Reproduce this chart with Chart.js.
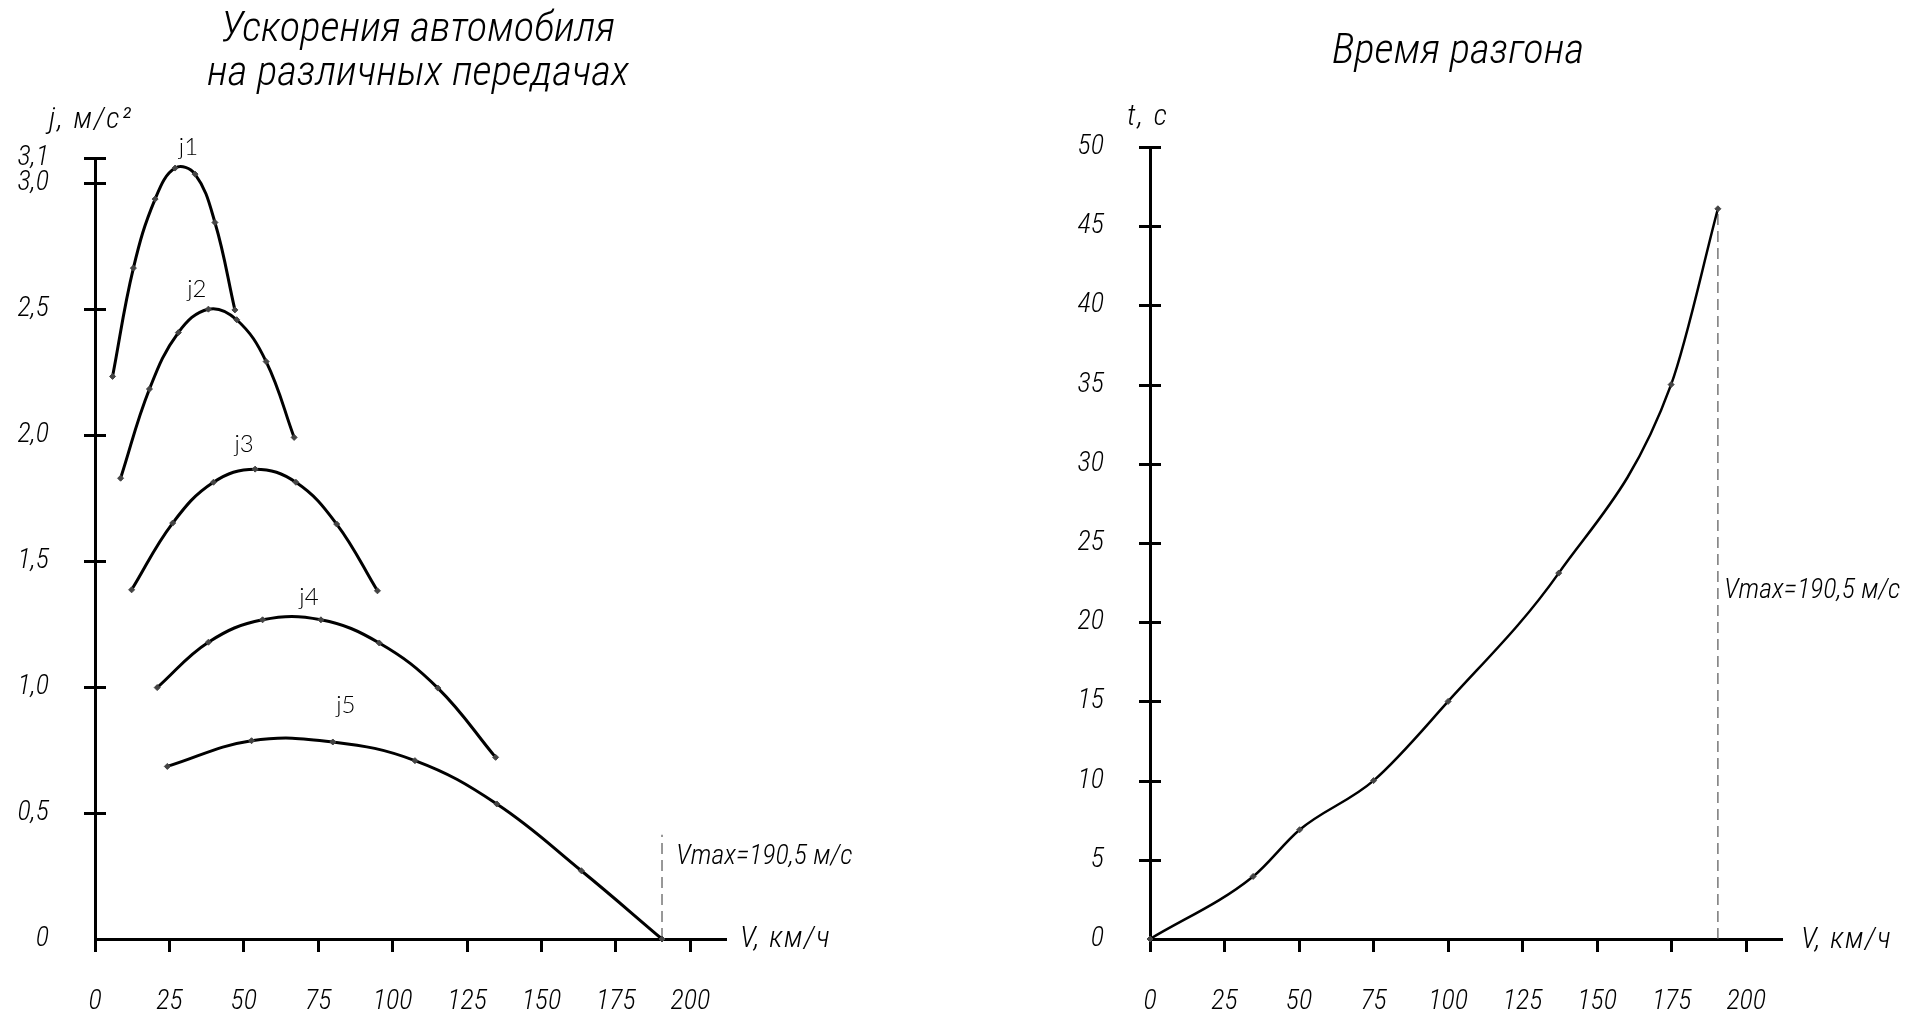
<!DOCTYPE html>
<html>
<head>
<meta charset="utf-8">
<script src="https://cdn.jsdelivr.net/npm/chart.js@4.4.1/dist/chart.umd.min.js"></script>
<style>
  body { margin: 0; background: #fff; }
  #sheet { position: relative; width: 1910px; height: 1016px; overflow: hidden; }
  #sheet canvas { position: absolute; top: 0; }
</style>
</head>
<body>
<div id="sheet">
  <canvas id="accel" width="955" height="1016" style="left:0"></canvas>
  <canvas id="time" width="955" height="1016" style="left:955px"></canvas>
</div>
<script>
// ticks
const speedTicks = [0, 25, 50, 75, 100, 125, 150, 175, 200];
const accelTicks = [0, 0.5, 1.0, 1.5, 2.0, 2.5, 3.0, 3.1];
const timeTicks = [0, 5, 10, 15, 20, 25, 30, 35, 40, 45, 50];

// accelerations per gear, V km/h -> j m/s2
const gearNames = ['j1', 'j2', 'j3', 'j4', 'j5'];
const speedJ1 = [5.9, 12.9, 20.2, 26.9, 33.6, 40.3, 47.0];
const accelJ1 = [2.233, 2.663, 2.937, 3.06, 3.036, 2.844, 2.497];
const speedJ2 = [8.6, 18.3, 28.0, 38.1, 47.6, 57.5, 66.9];
const accelJ2 = [1.829, 2.183, 2.407, 2.5, 2.458, 2.292, 1.991];
const speedJ3 = [12.3, 26.1, 39.8, 53.8, 67.5, 81.2, 94.9];
const accelJ3 = [1.386, 1.651, 1.813, 1.865, 1.813, 1.647, 1.382];
const speedJ4 = [20.9, 38.1, 56.3, 75.9, 95.5, 115.2, 134.6];
const accelJ4 = [0.998, 1.178, 1.267, 1.267, 1.175, 0.996, 0.721];
const speedJ5 = [24.3, 52.6, 79.9, 107.5, 135.0, 163.4, 190.5];
const accelJ5 = [0.685, 0.787, 0.782, 0.708, 0.536, 0.271, 0];

// acceleration time, V km/h -> t s
const speedT = [0, 34.6, 50.2, 75, 100, 137.1, 174.8, 190.5];
const timeT = [0, 3.95, 6.9, 10, 15, 23.1, 35, 46.1];

const vmax = 190.5;
const vmaxAccelSpan = [0, 0.414];
const vmaxTimeSpan = [0, 46.1];

const gost = "'Roboto Condensed', 'Open Sans', sans-serif";
const plain = "Lato, 'Open Sans', sans-serif";
const commaNum = (v) => v === 0 ? '0' : v.toFixed(1).replace('.', ',');

// crossing tick marks on the value axis + free text (titles, axis names, notes)
const sheetNotes = {
  id: 'sheetNotes',
  afterDraw(chart, args, opts) {
    const {ctx, scales: {x, y}} = chart;
    ctx.save();
    ctx.strokeStyle = '#000';
    ctx.lineWidth = 3;
    y.ticks.forEach((t) => {
      if (t.value === 0) return;
      const py = Math.round(y.getPixelForValue(t.value)) + 0.5;
      ctx.beginPath();
      ctx.moveTo(x.left - 11, py);
      ctx.lineTo(x.left + 11, py);
      ctx.stroke();
    });
    ctx.fillStyle = '#000';
    opts.texts.forEach((t) => {
      ctx.font = t.font;
      ctx.letterSpacing = t.spacing || '0px';
      ctx.textAlign = t.align || 'left';
      ctx.textBaseline = t.baseline || 'middle';
      const px = t.data ? x.getPixelForValue(t.data[0]) : t.at[0];
      const py = t.data ? y.getPixelForValue(t.data[1]) : t.at[1];
      ctx.fillText(t.text, px + (t.dx || 0), py);
    });
    ctx.restore();
  }
};

function curve(xs, ys, width, mode) {
  return {
    data: xs.map((v, i) => ({x: v, y: ys[i]})),
    borderColor: '#000',
    borderWidth: width,
    tension: 0.4,
    cubicInterpolationMode: mode,
    pointStyle: 'rectRot',
    pointRadius: 3,
    pointBackgroundColor: '#444',
    pointBorderColor: '#444',
    pointBorderWidth: 1,
    clip: false
  };
}

function vline(span) {
  return {
    data: span.map((v) => ({x: vmax, y: v})),
    borderColor: '#555',
    borderWidth: 1.2,
    borderDash: [11, 6],
    pointRadius: 0,
    clip: false
  };
}

const tickFont = {family: gost, size: 28, style: 'italic', weight: 300};

function axes(yMax, yTicks, yFmt, leftW) {
  return {
    x: {
      type: 'linear', min: 0, max: 212,
      afterBuildTicks: (s) => { s.ticks = speedTicks.map((v) => ({value: v})); },
      afterFit: (s) => { s.height = 77; },
      border: {display: true, color: '#000', width: 3},
      grid: {display: true, drawOnChartArea: false, drawTicks: true, tickLength: 13, tickWidth: 3, tickColor: '#000', color: '#000'},
      ticks: {padding: 33, autoSkip: false, maxRotation: 0, color: '#000', font: tickFont, callback: (v) => String(v)}
    },
    y: {
      type: 'linear', min: 0, max: yMax,
      afterBuildTicks: (s) => { s.ticks = yTicks.map((v) => ({value: v})); },
      afterFit: (s) => { s.width = leftW; },
      border: {display: true, color: '#000', width: 3},
      grid: {display: false, drawTicks: false},
      ticks: {padding: 46, autoSkip: false, color: '#000', font: tickFont, callback: yFmt}
    }
  };
}

const noteFont = 'italic 300 28px ' + gost;
const axisNameFont = 'italic 300 30px ' + gost;
const titleFont = 'italic 300 43px ' + gost;
const gearFont = '300 24px ' + plain;

const gearSeries = [[speedJ1, accelJ1], [speedJ2, accelJ2], [speedJ3, accelJ3], [speedJ4, accelJ4], [speedJ5, accelJ5]];
const gearLabelAt = [[31.4, 3.11], [34.2, 2.55], [50.1, 1.935], [71.9, 1.327], [84.3, 0.897]];

new Chart(document.getElementById('accel'), {
  type: 'line',
  data: {
    datasets: gearSeries.map(([xs, ys]) => curve(xs, ys, 3)).concat([vline(vmaxAccelSpan)])
  },
  options: {
    responsive: false,
    animation: false,
    devicePixelRatio: 1,
    layout: {padding: {left: 0, top: 158, right: 229, bottom: 0}},
    scales: axes(3.1, accelTicks, (v) => commaNum(v), 95),
    plugins: {
      legend: {display: false},
      tooltip: {enabled: false},
      sheetNotes: {
        texts: [
          {text: 'Ускорения автомобиля', at: [418, 30], align: 'center', font: titleFont},
          {text: 'на различных передачах', at: [418, 74], align: 'center', font: titleFont},
          {text: 'j, м/с²', at: [49, 120], font: axisNameFont, spacing: '2px'},
          {text: 'V, км/ч', at: [740, 939], font: axisNameFont, spacing: '1.5px'},
          {text: 'Vmax=190,5 м/с', data: [vmax, 0.327], dx: 14, font: noteFont}
        ].concat(gearNames.map((n, i) => ({text: n, data: gearLabelAt[i], align: 'center', baseline: 'alphabetic', font: gearFont})))
      }
    }
  },
  plugins: [sheetNotes]
});

new Chart(document.getElementById('time'), {
  type: 'line',
  data: {
    datasets: [curve(speedT, timeT, 2.5, 'monotone'), vline(vmaxTimeSpan)]
  },
  options: {
    responsive: false,
    animation: false,
    devicePixelRatio: 1,
    layout: {padding: {left: 0, top: 147, right: 128, bottom: 0}},
    scales: axes(50, timeTicks, (v) => String(v), 195),
    plugins: {
      legend: {display: false},
      tooltip: {enabled: false},
      sheetNotes: {
        texts: [
          {text: 'Время разгона', at: [503, 52], align: 'center', font: titleFont},
          {text: 't, с', at: [172, 117], font: axisNameFont, spacing: '2px'},
          {text: 'V, км/ч', at: [846, 940], font: axisNameFont, spacing: '1.5px'},
          {text: 'Vmax=190,5 м/с', data: [vmax, 22], dx: 6, font: noteFont}
        ]
      }
    }
  },
  plugins: [sheetNotes]
});
</script>
</body>
</html>
